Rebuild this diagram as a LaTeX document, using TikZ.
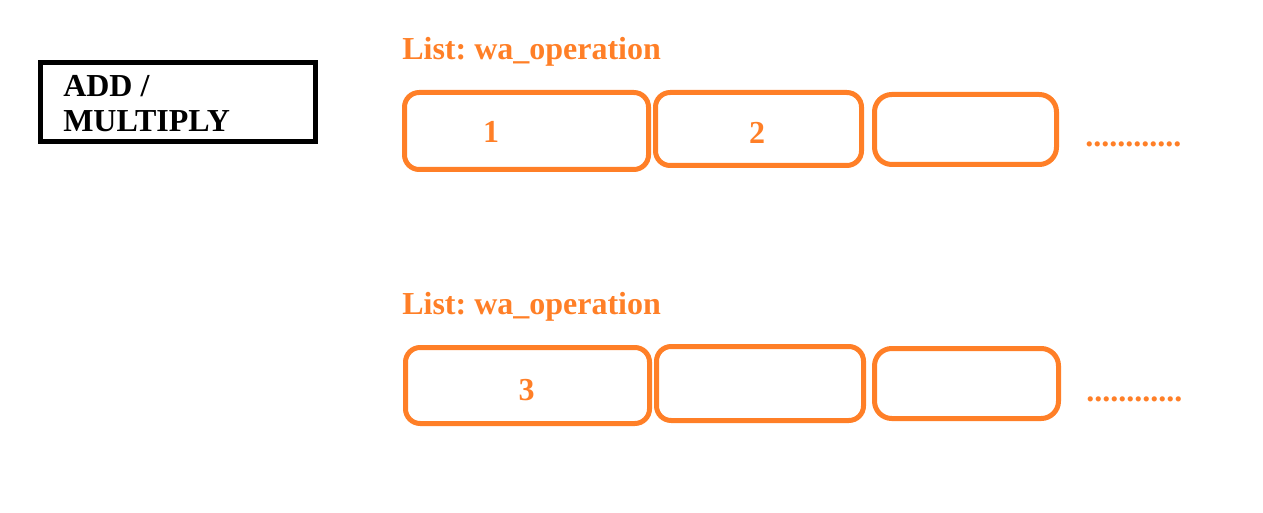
\documentclass[tikz,border=0pt]{standalone}
\usepackage{fontspec}
\setmainfont{Liberation Serif}
\usepackage{xcolor}
\usepackage{tikz}
\usetikzlibrary{positioning, calc}
\definecolor{paintorange}{HTML}{FF7F27}
\frenchspacing

\begin{document}
\begin{tikzpicture}[x=0.75pt,y=-0.75pt,
  cell/.style={draw=paintorange, line width=3.75pt, rounded corners=11pt, inner sep=0pt},
  otext/.style={text=paintorange, font=\fontsize{24}{26}\selectfont\bfseries, inner sep=0pt},
  btext/.style={text=black, font=\fontsize{24}{26.25}\selectfont\bfseries, inner sep=0pt}]

% Page size
\useasboundingbox (0,0) rectangle (1263,513);

% Operation box
\node[draw=black, line width=3.75pt, minimum width=206.25pt, minimum height=59.25pt, inner sep=0pt]
  (opbox) at (178,102) {};
\node[btext, align=left, anchor=north west] (optext) at (63,75) {ADD /\\MULTIPLY};

% First list
\node[otext, anchor=base west] (title1) at (402,60) {List: wa\_operation};
\node[cell, minimum width=183pt, minimum height=57.75pt] (a1) at (526.5,131) {};
\node[cell, minimum width=154.5pt, minimum height=54.75pt] (a2) at (758.5,129) {};
\node[cell, minimum width=136.5pt, minimum height=52.5pt, rounded corners=13pt] (a3) at (965.5,129.5) {};
\node[otext] (n1) at (491,132) {1};
\node[otext] (n2) at (757,132.5) {2};
\node[otext, anchor=base west] (dots1) at (1085,147) {............};

% Second list
\node[otext, anchor=base west] (title2) at (402,314) {List: wa\_operation};
\node[cell, minimum width=183pt, minimum height=57pt] (b1) at (527.5,385.5) {};
\node[cell, minimum width=155.25pt, minimum height=55.5pt] (b2) at (760,383.5) {};
\node[cell, minimum width=138pt, minimum height=52.5pt, rounded corners=13pt] (b3) at (966.5,383.5) {};
\node[otext] (n3) at (526.5,390) {3};
\node[otext, anchor=base west] (dots2) at (1086,401) {............};

\end{tikzpicture}
\end{document}
